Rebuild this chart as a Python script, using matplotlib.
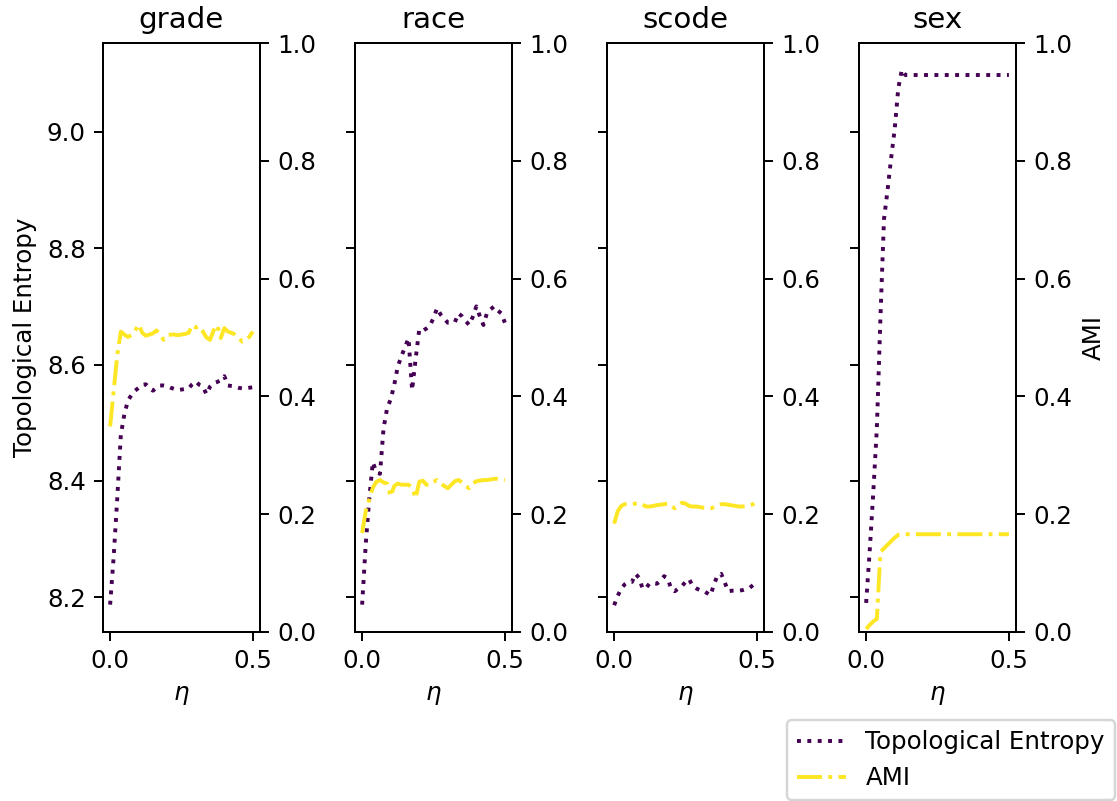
import numpy as np
import matplotlib
matplotlib.use('Agg')
import matplotlib.pyplot as plt

# eta grid shared by all panels
eta = np.linspace(0, 0.5, 41)

panels = ['grade', 'race', 'scode', 'sex']

# Topological entropy per attribute (left axis)
te_grade = [8.187, 8.27, 8.37, 8.479, 8.515, 8.538, 8.548, 8.555, 8.56, 8.565,
            8.566, 8.56, 8.555, 8.56, 8.564, 8.564, 8.563, 8.56, 8.558, 8.556,
            8.557, 8.558, 8.559, 8.566, 8.571, 8.565, 8.562, 8.549, 8.562, 8.568,
            8.57, 8.573, 8.58, 8.564, 8.563, 8.562, 8.56, 8.559, 8.559, 8.56, 8.561]
te_race = [8.187, 8.29, 8.37, 8.432, 8.415, 8.412, 8.49, 8.525, 8.54, 8.565,
           8.597, 8.614, 8.63, 8.645, 8.556, 8.61, 8.66, 8.658, 8.662, 8.667,
           8.68, 8.697, 8.686, 8.679, 8.672, 8.672, 8.673, 8.688, 8.683, 8.675,
           8.668, 8.682, 8.70, 8.683, 8.668, 8.689, 8.695, 8.70, 8.693, 8.688, 8.672]
te_scode = [8.186, 8.202, 8.215, 8.222, 8.226, 8.226, 8.24, 8.233, 8.214, 8.216,
            8.224, 8.224, 8.223, 8.228, 8.236, 8.232, 8.214, 8.21, 8.215, 8.219,
            8.226, 8.231, 8.219, 8.215, 8.212, 8.211, 8.207, 8.203, 8.222, 8.238,
            8.24, 8.225, 8.21, 8.211, 8.211, 8.211, 8.212, 8.214, 8.216, 8.221, 8.228]
te_sex = [8.19, 8.28, 8.38, 8.49, 8.68, 8.85, 8.90, 8.955, 9.005, 9.075,
          9.107, 9.098, 9.098, 9.098, 9.098, 9.098, 9.098, 9.098, 9.098, 9.098,
          9.098, 9.098, 9.098, 9.098, 9.098, 9.098, 9.098, 9.098, 9.098, 9.098,
          9.098, 9.098, 9.098, 9.098, 9.098, 9.098, 9.098, 9.098, 9.098, 9.098, 9.098]

# AMI per attribute (right axis)
ami_grade = [0.349, 0.41, 0.47, 0.51, 0.505, 0.501, 0.504, 0.512, 0.522, 0.508,
             0.503, 0.505, 0.507, 0.512, 0.505, 0.496, 0.503, 0.505, 0.505, 0.504,
             0.505, 0.506, 0.508, 0.521, 0.517, 0.519, 0.51, 0.50, 0.496, 0.512,
             0.521, 0.499, 0.516, 0.51, 0.508, 0.505, 0.50, 0.493, 0.496, 0.501, 0.51]
ami_race = [0.168, 0.205, 0.225, 0.245, 0.255, 0.258, 0.254, 0.252, 0.23, 0.248,
            0.252, 0.25, 0.25, 0.25, 0.245, 0.227, 0.255, 0.257, 0.25, 0.25,
            0.255, 0.258, 0.252, 0.248, 0.244, 0.25, 0.256, 0.258, 0.254, 0.248,
            0.244, 0.252, 0.256, 0.257, 0.258, 0.258, 0.259, 0.26, 0.26, 0.259, 0.258]
ami_scode = [0.184, 0.205, 0.214, 0.217, 0.217, 0.217, 0.218, 0.2185, 0.216, 0.213,
             0.213, 0.214, 0.2155, 0.216, 0.217, 0.218, 0.214, 0.21, 0.215, 0.2195,
             0.218, 0.214, 0.213, 0.213, 0.212, 0.211, 0.21, 0.21, 0.212, 0.215,
             0.217, 0.217, 0.216, 0.215, 0.214, 0.213, 0.213, 0.214, 0.215, 0.217, 0.2195]
ami_sex = [0.005, 0.012, 0.018, 0.022, 0.136, 0.142, 0.148, 0.154, 0.16, 0.165,
           0.166, 0.166, 0.166, 0.166, 0.166, 0.166, 0.166, 0.166, 0.166, 0.166,
           0.166, 0.166, 0.166, 0.166, 0.166, 0.166, 0.166, 0.166, 0.166, 0.166,
           0.166, 0.166, 0.166, 0.166, 0.166, 0.166, 0.166, 0.166, 0.166, 0.166, 0.166]

te_all = [te_grade, te_race, te_scode, te_sex]
ami_all = [ami_grade, ami_race, ami_scode, ami_sex]

te_color = plt.cm.viridis(0.0)
ami_color = plt.cm.viridis(1.0)

dpi = 176
fig, axes = plt.subplots(1, 4, sharey=True, figsize=(1117 / dpi, 801 / dpi), dpi=dpi)
fig.subplots_adjust(left=0.0922, right=0.9096, bottom=0.211, top=0.9463, wspace=0.605)

for i, ax in enumerate(axes):
    l1, = ax.plot(eta, te_all[i], ':', color=te_color, lw=1.6, label='Topological Entropy')
    ax.set_title(panels[i])
    ax.set_xlabel(r'$\eta$')
    ax.set_xticks([0.0, 0.5])
    ax2 = ax.twinx()
    l2, = ax2.plot(eta, ami_all[i], '-.', color=ami_color, lw=1.6, label='AMI')
    ax2.set_ylim(0, 1)
    if i == 0:
        ax.set_ylabel('Topological Entropy')
    if i == 3:
        ax2.set_ylabel('AMI')

# legend in the bottom-right corner of the figure
fig.legend([l1, l2], ['Topological Entropy', 'AMI'], loc='lower right',
           bbox_to_anchor=(1.0, -0.002), borderaxespad=0.1)

fig.savefig('out.png', dpi=dpi)
